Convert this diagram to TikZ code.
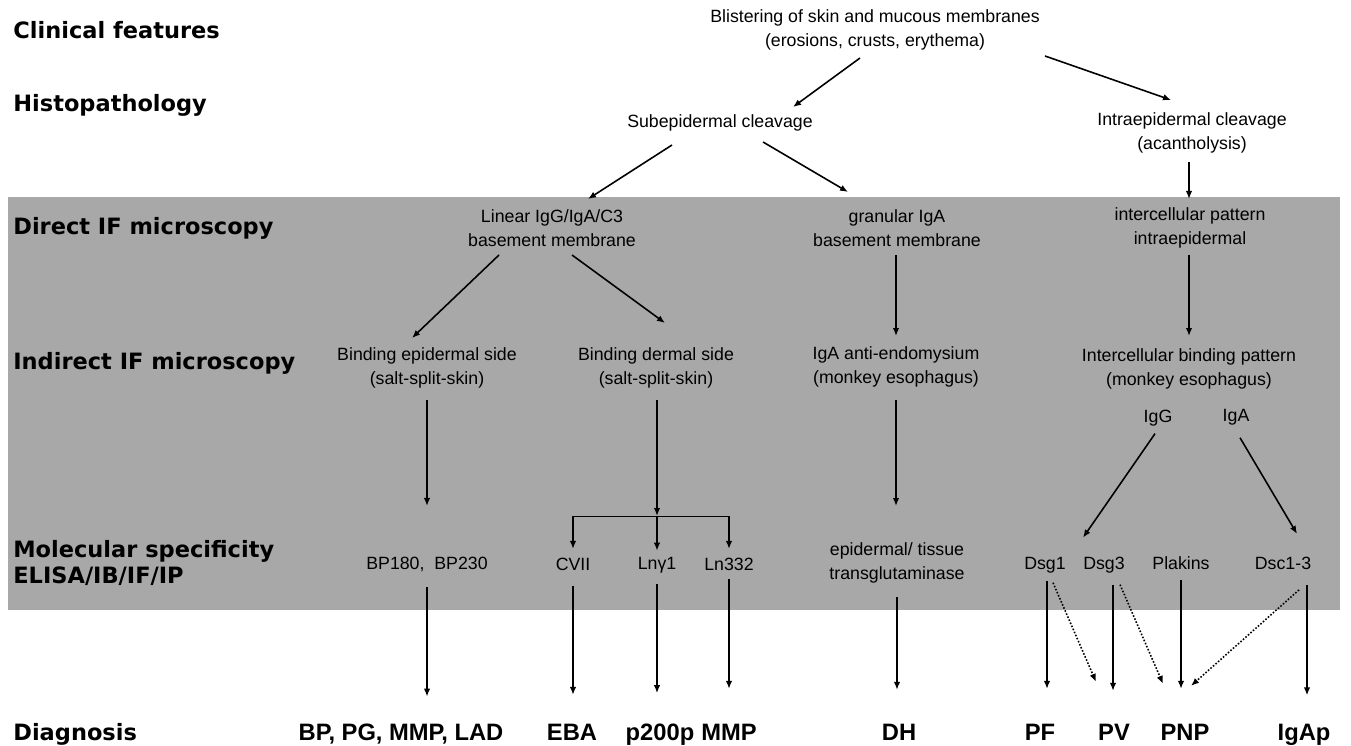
\documentclass[tikz,border=0pt]{standalone}
\usepackage{fontspec}
\setmainfont{Liberation Sans}
\newfontfamily\headfont{DejaVu Sans}
\usetikzlibrary{calc,arrows.meta}
\definecolor{panelgray}{rgb}{0.66,0.66,0.66}
\newcommand{\txtsize}{\fontsize{10.1}{13.5}\selectfont}
\newcommand{\headsize}{\headfont\bfseries\fontsize{12.8}{15.3}\selectfont}
\newcommand{\dxsize}{\bfseries\fontsize{13.5}{16}\selectfont}

\begin{document}
\begin{tikzpicture}[x=0.02cm,y=-0.02cm,
    txt/.style={font=\txtsize,align=center,inner sep=0pt},
    one/.style={txt,anchor=base},
    head/.style={font=\headsize,align=left,anchor=west,inner sep=0pt},
    dx/.style={font=\dxsize,inner sep=0pt,anchor=base},
    arr/.style={-{Latex[length=1.6mm,width=1.3mm]},line width=0.9pt},
    dotarr/.style={arr,densely dotted}]
  \useasboundingbox (0,0) rectangle (1351,746);
  \fill[panelgray] (8,197) rectangle (1340,610);
  % row labels
  \node (clin) at (13,30) [head] {Clinical features};
  \node (histo) at (13,105) [head] {Histopathology};
  \node (dirif) at (13,228) [head] {Direct IF microscopy};
  \node (indif) at (13,363) [head] {Indirect IF microscopy};
  \node (molsp) at (13,563) [head] {Molecular specificity\\ELISA/IB/IF/IP};
  \node (diag) at (13,740) [head,anchor=base west] {Diagnosis};
  % findings
  \node (blist) at (875,30) [txt] {Blistering of skin and mucous membranes\\(erosions, crusts, erythema)};
  \node (subep) at (720,123) [txt] {Subepidermal cleavage};
  \node (intra) at (1192,133) [txt] {Intraepidermal cleavage\\(acantholysis)};
  \node (linear) at (552,228) [txt] {Linear IgG/IgA/C3\\basement membrane};
  \node (granular) at (897,228) [txt] {granular IgA\\basement membrane};
  \node (intercell) at (1190,228) [txt] {intercellular pattern\\intraepidermal};
  \node (bindep) at (427,368) [txt] {Binding epidermal side\\(salt-split-skin)};
  \node (bindd) at (656,368) [txt] {Binding dermal side\\(salt-split-skin)};
  \node (igaend) at (896,367) [txt] {IgA anti-endomysium\\(monkey esophagus)};
  \node (intbind) at (1189,369) [txt] {Intercellular binding pattern\\(monkey esophagus)};
  \node (igg) at (1158,422) [one] {IgG};
  \node (iga) at (1236,421) [one] {IgA};
  \node (bp) at (427,569) [one] {BP180,~~BP230};
  \node (cvii) at (573,570) [one] {CVII};
  \node (lny) at (657,569) [one] {Lnγ1};
  \node (ln) at (729,570) [one] {Ln332};
  \node (tgase) at (897,563) [txt] {epidermal/ tissue\\transglutaminase};
  \node (dsg1) at (1045,569) [one] {Dsg1};
  \node (dsg3) at (1104,569) [one] {Dsg3};
  \node (plak) at (1181,569) [one] {Plakins};
  \node (dsc) at (1283,569) [one] {Dsc1-3};
  % diagnoses
  \node (dbp) at (401,740) [dx] {BP, PG, MMP, LAD};
  \node (deba) at (572,740) [dx] {EBA};
  \node (dp200) at (660,740) [dx] {p200p};
  \node (dmmp) at (729,740) [dx] {MMP};
  \node (ddh) at (899,740) [dx] {DH};
  \node (dpf) at (1040,740) [dx] {PF};
  \node (dpv) at (1114,740) [dx] {PV};
  \node (dpnp) at (1185,740) [dx] {PNP};
  \node (digap) at (1304,740) [dx] {IgAp};
  \coordinate (fork) at (657,516);
  % upper levels
  \draw[arr] ($(blist)+(-15,28)$) -- ($(subep)+(73,-16)$);
  \draw[arr] ($(blist)+(170,26)$) -- ($(intra)+(-21,-33)$);
  \draw[arr] ($(subep)+(-48,22)$) -- ($(linear)+(36,-29)$);
  \draw[arr] ($(subep)+(43,19)$) -- ($(granular)+(-49,-36)$);
  \draw[arr] ($(intra)+(-3,29)$) -- ($(intercell)+(-1,-29)$);
  \draw[arr] ($(linear)+(-53,27)$) -- ($(bindep)+(-15,-30)$);
  \draw[arr] ($(linear)+(20,27)$) -- ($(bindd)+(9,-45)$);
  \draw[arr] ($(granular)+(-1,27)$) -- ($(igaend)+(0,-31)$);
  \draw[arr] ($(intercell)+(-1,27)$) -- ($(intbind)+(0,-33)$);
  % to molecular targets
  \draw[arr] ($(bindep)+(0,32)$) -- ($(bp)+(0,-58)$);
  \draw[arr] ($(bindd)+(1,32)$) -- (fork);
  \draw (cvii |- fork) -- (ln |- fork);
  \draw[arr] (cvii |- fork) -- ($(cvii)+(0,-15)$);
  \draw[arr] (fork) -- ($(lny)+(0,-14)$);
  \draw[arr] (ln |- fork) -- ($(ln)+(0,-15)$);
  \draw[arr] ($(igaend)+(0,33)$) -- ($(tgase)+(-1,-57)$);
  \draw[arr] ($(igg)+(-3,16)$) -- ($(dsg3)+(-21,-27)$);
  \draw[arr] ($(iga)+(4,21)$) -- ($(dsc)+(14,-29)$);
  % to diagnoses
  \draw[arr] ($(bp)+(0,23)$) -- ($(bp |- dbp)+(0,-37)$);
  \draw[arr] ($(cvii)+(0,22)$) -- ($(cvii |- deba)+(0,-37)$);
  \draw[arr] ($(lny)+(0,19)$) -- ($(lny |- dp200)+(0,-41)$);
  \draw[arr] ($(ln)+(0,15)$) -- ($(ln |- dmmp)+(0,-43)$);
  \draw[arr] ($(tgase)+(0,34)$) -- ($(tgase |- ddh)+(0,-42)$);
  \draw[arr] ($(dsg1)+(2,16)$) -- ($(dsg1 |- dpf)+(2,-43)$);
  \draw[dotarr] ($(dsg1)+(8,18)$) -- ($(dpv)+(-18,-50)$);
  \draw[arr] ($(dsg3)+(9,20)$) -- ($(dsg3 |- dpv)+(9,-41)$);
  \draw[dotarr] ($(dsg3)+(16,20)$) -- ($(dpnp)+(-22,-48)$);
  \draw[arr] ($(plak)+(0,17)$) -- ($(plak |- dpnp)+(0,-43)$);
  \draw[dotarr] ($(dsc)+(16,27)$) -- ($(dpnp)+(6,-46)$);
  \draw[arr] ($(dsc)+(24,22)$) -- ($(dsc |- digap)+(24,-39)$);
\end{tikzpicture}
\end{document}
